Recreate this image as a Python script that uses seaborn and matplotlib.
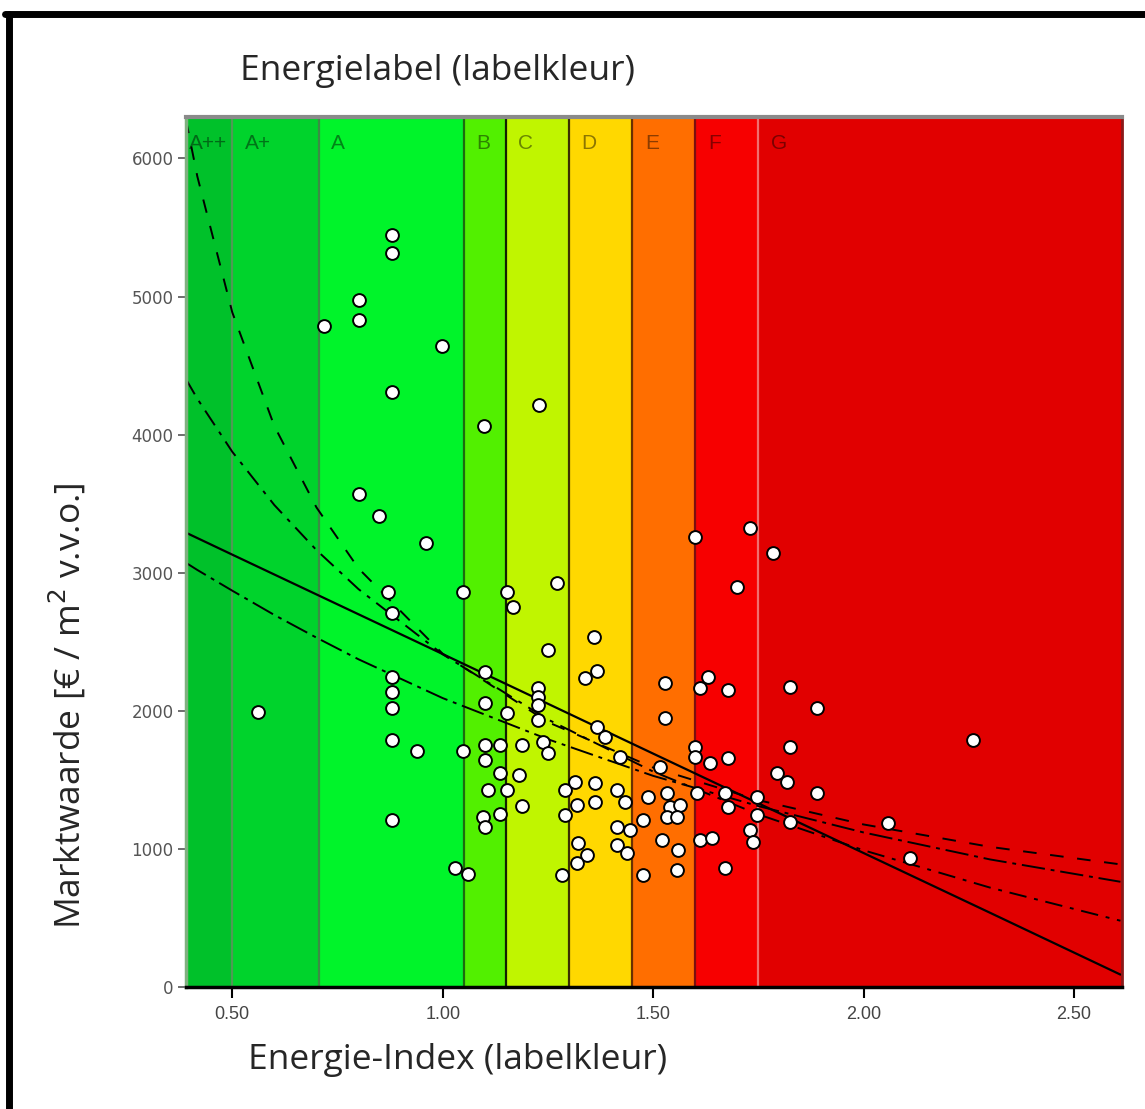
import numpy as np
import pandas as pd
import matplotlib
matplotlib.use("Agg")
import matplotlib.pyplot as plt
from matplotlib.lines import Line2D
import seaborn as sns

# ------------------------------------------
# DATA
# ------------------------------------------
band_names = ['A++', 'A+', 'A', 'B', 'C', 'D', 'E', 'F', 'G']
band_edges = [0.39, 0.50, 0.705, 1.05, 1.15, 1.30, 1.45, 1.60, 1.75, 2.614]
band_colors = ['#00c12a', '#00d32c', '#00f42a', '#52f000', '#c0f500',
               '#ffd800', '#ff6e00', '#f70000', '#e10000']
edge_colors = ['#4f9a55', '#3d8a45', '#1d6b10', '#142000', '#3a3000',
               '#6a3000', '#7a1010', '#f07070']

energie_index = [0.562, 0.719, 0.802, 0.802, 0.880, 0.880, 0.999, 0.880, 0.802, 0.849,
                 0.961, 0.871, 0.880, 0.880, 0.880, 0.880, 0.880, 0.939, 0.880, 1.030,
                 1.061, 1.049, 1.099, 1.101, 1.101, 1.049, 1.101, 1.137, 1.101, 1.137,
                 1.108, 1.096, 1.101, 1.137, 1.153, 1.153, 1.153, 1.167, 1.229, 1.272,
                 1.251, 1.227, 1.227, 1.227, 1.227, 1.189, 1.239, 1.251, 1.182, 1.189,
                 1.291, 1.291, 1.284, 1.360, 1.367, 1.338, 1.367, 1.315, 1.362, 1.362,
                 1.319, 1.322, 1.343, 1.319, 1.414, 1.414, 1.414, 1.386, 1.422, 1.433,
                 1.445, 1.438, 1.476, 1.488, 1.476, 1.528, 1.528, 1.517, 1.533, 1.540,
                 1.564, 1.533, 1.557, 1.521, 1.559, 1.557, 1.600, 1.631, 1.612, 1.678,
                 1.730, 1.700, 1.600, 1.600, 1.635, 1.678, 1.605, 1.671, 1.678, 1.612,
                 1.640, 1.671, 1.747, 1.747, 1.730, 1.738, 1.785, 1.794, 1.825, 1.890,
                 1.825, 1.818, 1.890, 1.825, 2.058, 2.260, 2.110]
marktwaarde = [1993, 4783, 4978, 4833, 5442, 5312, 4645, 4312, 3572, 3413,
               3217, 2862, 2710, 2246, 2138, 2022, 1790, 1710, 1210, 862,
               819, 2862, 4065, 2283, 2058, 1710, 1754, 1754, 1645, 1551,
               1428, 1232, 1159, 1254, 1986, 2862, 1428, 2754, 4217, 2928,
               2442, 2167, 2101, 2043, 1935, 1754, 1775, 1696, 1536, 1312,
               1428, 1246, 812, 2536, 2290, 2239, 1884, 1486, 1478, 1341,
               1319, 1043, 957, 899, 1428, 1159, 1029, 1812, 1667, 1341,
               1138, 971, 812, 1377, 1210, 2203, 1949, 1594, 1406, 1304,
               1319, 1232, 1232, 1065, 993, 848, 3261, 2246, 2167, 2152,
               3326, 2899, 1739, 1667, 1623, 1659, 1406, 1406, 1304, 1065,
               1080, 862, 1377, 1246, 1138, 1051, 3145, 1551, 2174, 2022,
               1739, 1486, 1406, 1196, 1188, 1790, 935]

# fitted curves, points
fit_x = [0.39, 0.417, 0.5, 0.6, 0.7, 0.8, 1.0, 1.25, 1.5, 1.75, 2.0, 2.3, 2.61]
lin_y = [3290, 3251, 3131, 2987, 2843, 2699, 2411, 2051, 1690, 1330, 970, 538, 90]
inv_y = [6280, 5870, 4886, 4062, 3473, 3031, 2413, 1918, 1589, 1353, 1177, 1015, 888]
log_y = [4402, 4260, 3876, 3490, 3164, 2881, 2409, 1937, 1560, 1250, 990, 720, 480]
exp_y = [3072, 3020, 2870, 2694, 2530, 2373, 2092, 1794, 1529, 1310, 1119, 924, 762]

df = pd.DataFrame({'index': energie_index, 'waarde': marktwaarde})

# ------------------------------------------
# FIGURE
# ------------------------------------------
sns.set_style('ticks')
plt.rcParams['font.family'] = ['Open Sans', 'DejaVu Sans']

fig = plt.figure(figsize=(11.45, 11.09), dpi=100)
ax = fig.add_axes([0.1624, 0.110, 0.8176, 0.7845])

# coloured label bands
for i, name in enumerate(band_names):
    ax.axvspan(band_edges[i], band_edges[i + 1], color=band_colors[i], lw=0, zorder=0)
    off = 0.008 if i == 0 else 0.03
    ax.text(band_edges[i] + off, 6110, name, fontsize=15, color='black', alpha=0.45,
            va='center', ha='left', family=['Liberation Sans', 'DejaVu Sans'], zorder=1)
for xe, c in zip(band_edges[1:-1], edge_colors):
    ax.axvline(xe, color=c, lw=1.6, zorder=1)

# fit lines
sns.lineplot(x=fit_x, y=lin_y, ax=ax, color='black', lw=1.6, sort=False, zorder=2)
sns.lineplot(x=fit_x, y=inv_y, ax=ax, color='black', lw=1.4, sort=False, zorder=2,
             linestyle=(0, (7, 7)))
sns.lineplot(x=fit_x, y=log_y, ax=ax, color='black', lw=1.4, sort=False, zorder=2,
             linestyle=(0, (9, 4, 2, 4)))
sns.lineplot(x=fit_x, y=exp_y, ax=ax, color='black', lw=1.4, sort=False, zorder=2,
             linestyle=(0, (12, 3, 2, 3)))

# scatter points
sns.scatterplot(data=df, x='index', y='waarde', ax=ax, s=85, color='white',
                edgecolor='black', linewidth=1.4, zorder=3)

ax.set_xlim(0.39, 2.614)
ax.set_ylim(0, 6300)
ax.set_xticks([0.5, 1.0, 1.5, 2.0, 2.5])
ax.set_xticklabels(['0.50', '1.00', '1.50', '2.00', '2.50'])
ax.set_yticks([0, 1000, 2000, 3000, 4000, 5000, 6000])
ax.set_xlabel('')
ax.set_ylabel('')
ax.tick_params(axis='x', length=8, width=1.5, color='black', labelsize=13,
               labelcolor='#444444', pad=6)
ax.tick_params(axis='y', length=6, width=1.2, color='#555555', labelsize=12,
               labelcolor='#555555', pad=3)
for lab in ax.get_xticklabels():
    lab.set_family(['Liberation Sans Narrow', 'Liberation Sans', 'DejaVu Sans'])
for lab in ax.get_yticklabels():
    lab.set_family(['DejaVu Sans'])

ax.spines['top'].set_color('#8a8a8a')
ax.spines['top'].set_linewidth(3)
ax.spines['left'].set_color('#7fb07f')
ax.spines['left'].set_linewidth(2.5)
ax.spines['bottom'].set_color('black')
ax.spines['bottom'].set_linewidth(2.5)
ax.spines['right'].set_color('#8a1a1a')
ax.spines['right'].set_linewidth(2)

fig.text(0.2096, 0.936, 'Energielabel (labelkleur)', fontsize=25.5, va='center', ha='left')
fig.text(0.40, 0.044, 'Energie-Index (labelkleur)', fontsize=25.5, va='center', ha='center')
fig.text(0.059, 0.364, 'Marktwaarde [€ / m$^2$ v.v.o.]', fontsize=25.5, va='center',
         ha='center', rotation=90)

# outer black frame (left and top)
fig.add_artist(Line2D([0.0079, 0.0079], [0.0, 0.9875], color='black', lw=5,
                      transform=fig.transFigure))
fig.add_artist(Line2D([0.0045, 1.0], [0.9875, 0.9875], color='black', lw=5,
                      transform=fig.transFigure))

plt.savefig('out.png', dpi=100)
